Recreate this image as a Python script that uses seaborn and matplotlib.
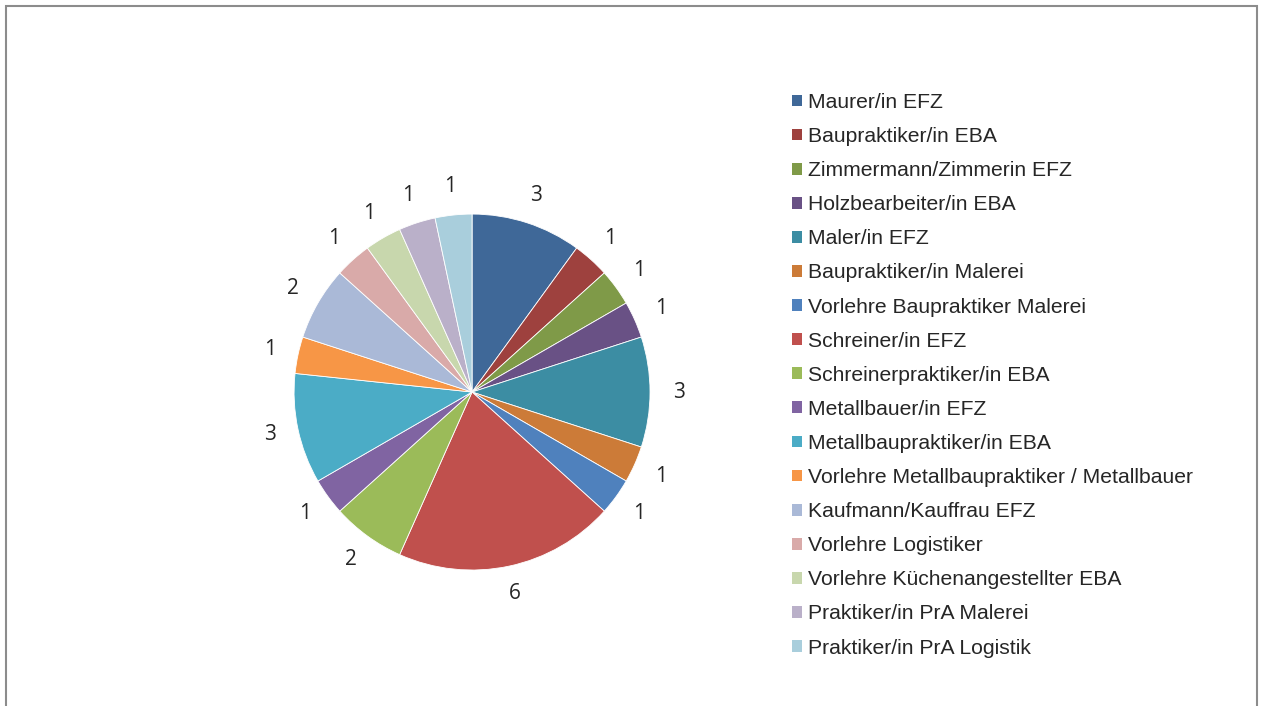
import matplotlib
matplotlib.use("Agg")
import matplotlib.pyplot as plt
import matplotlib.patches as mpatches
import seaborn as sns

categories = [
    "Maurer/in EFZ",
    "Baupraktiker/in EBA",
    "Zimmermann/Zimmerin EFZ",
    "Holzbearbeiter/in EBA",
    "Maler/in EFZ",
    "Baupraktiker/in Malerei",
    "Vorlehre Baupraktiker Malerei",
    "Schreiner/in EFZ",
    "Schreinerpraktiker/in EBA",
    "Metallbauer/in EFZ",
    "Metallbaupraktiker/in EBA",
    "Vorlehre Metallbaupraktiker / Metallbauer",
    "Kaufmann/Kauffrau EFZ",
    "Vorlehre Logistiker",
    "Vorlehre Küchenangestellter EBA",
    "Praktiker/in PrA Malerei",
    "Praktiker/in PrA Logistik",
]
counts = [3, 1, 1, 1, 3, 1, 1, 6, 2, 1, 3, 1, 2, 1, 1, 1, 1]
colors = [
    "#3F6898", "#9E413E", "#7F9A48", "#695185", "#3C8DA3", "#CC7B38",
    "#4F81BD", "#C0504D", "#9BBB59", "#8064A2", "#4BACC6", "#F79646",
    "#AAB9D7", "#D9AAA9", "#C8D7AD", "#BAB0C9", "#A9CEDC",
]

sns.set_theme(style="white")
plt.rcParams["font.family"] = ["Liberation Sans", "DejaVu Sans"]
palette = sns.color_palette(colors)

fig = plt.figure(figsize=(12.63, 7.06), dpi=100)
fig.patch.set_facecolor("white")

# pie axes, center ~ (472, 392) px, radius ~178 px
ax = fig.add_axes([0.2328, 0.1926, 0.2819, 0.5042])
wedges, texts = ax.pie(
    counts,
    labels=[str(c) for c in counts],
    colors=palette,
    startangle=90,
    counterclock=False,
    labeldistance=1.16,
    wedgeprops={"linewidth": 0.6, "edgecolor": "white"},
    textprops={"fontsize": 15, "family": ["Open Sans", "DejaVu Sans"]},
)
for t in texts:
    t.set_horizontalalignment("center")
    t.set_verticalalignment("center")
ax.set_xlim(-1, 1)
ax.set_ylim(-1, 1)
ax.set_aspect("equal")
ax.axis("off")

handles = [mpatches.Patch(facecolor=palette[i], edgecolor="none") for i in range(len(categories))]
fig.legend(
    handles,
    categories,
    loc="upper left",
    bbox_to_anchor=(792 / 1263, 1 - 93 / 706),
    frameon=False,
    fontsize=15.2,
    handlelength=0.48,
    handleheight=0.48,
    handletextpad=0.3,
    labelspacing=0.715,
    borderpad=0,
    borderaxespad=0,
)

# outer gray frame
frame = mpatches.Rectangle(
    (6 / 1263, -0.05), (1257 - 6) / 1263, 1 - 6 / 706 + 0.05,
    transform=fig.transFigure, fill=False, edgecolor="#8C8C8C", linewidth=1.5,
)
fig.patches.append(frame)

fig.savefig("out.png", dpi=100)
